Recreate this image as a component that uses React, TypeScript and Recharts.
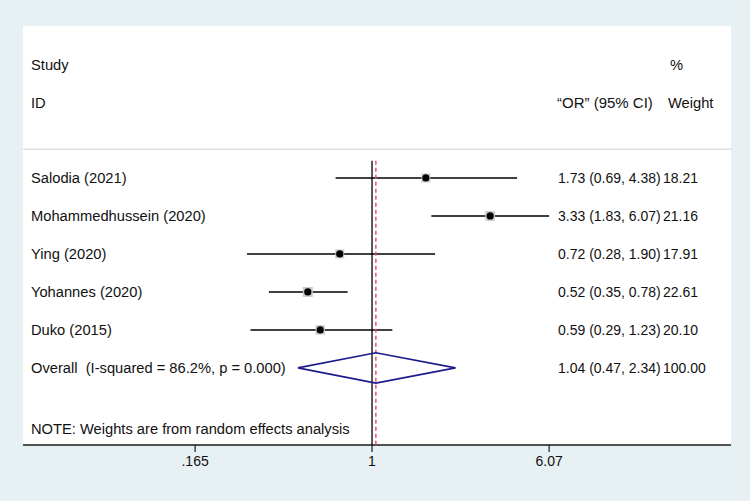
import React from 'react';
import { ComposedChart, Scatter, XAxis, YAxis, CartesianGrid } from 'recharts';

// ---- data ----
const studyLabels = ['Salodia (2021)', 'Mohammedhussein (2020)', 'Ying (2020)', 'Yohannes (2020)', 'Duko (2015)'];
const oddsRatios = [1.73, 3.33, 0.72, 0.52, 0.59];
const ciLow = [0.69, 1.83, 0.28, 0.35, 0.29];
const ciHigh = [4.38, 6.07, 1.9, 0.78, 1.23];
const weights = ['18.21', '21.16', '17.91', '22.61', '20.10'];
const overallLabel = 'Overall  (I-squared = 86.2%, p = 0.000)';
const overallOR = 1.04;
const overallLow = 0.47;
const overallHigh = 2.34;
const overallWeight = '100.00';
const xTicks = [0.165, 1, 6.07];
const xTickLabels = ['.165', '1', '6.07'];
const headerStudy = ['Study', 'ID'];
const headerEffect = '\u201COR\u201D (95% CI)';
const headerWeight = ['%', 'Weight'];
const noteText = 'NOTE: Weights are from random effects analysis';
const nullValue = 1;

// ---- layout (row positions on the y scale) ----
const FIRST_ROW = 4;
const OVERALL_ROW = FIRST_ROW + studyLabels.length;
const Y_MAX = 11.03;
const FONT = '"Liberation Sans", Arial, Helvetica, sans-serif';
const LABEL_X = 31;
const STAT_X = 558;
const WEIGHT_X = 663;

const fmt = (v: number) => v.toFixed(2);

const studyRows = studyLabels.map((label, i) => ({
  x: oddsRatios[i],
  y: FIRST_ROW + i,
  label,
  stat: `${fmt(oddsRatios[i])} (${fmt(ciLow[i])}, ${fmt(ciHigh[i])})`,
  weight: weights[i],
  w: parseFloat(weights[i]),
}));

const textRows = [
  ...studyRows,
  {
    x: overallOR,
    y: OVERALL_ROW,
    label: overallLabel,
    stat: `${fmt(overallOR)} (${fmt(overallLow)}, ${fmt(overallHigh)})`,
    weight: overallWeight,
    w: 100,
  },
];

const headerRows = [
  { x: 1, y: 1.03, left: headerStudy[0], mid: '', right: headerWeight[0] },
  { x: 1, y: 2.03, left: headerStudy[1], mid: headerEffect, right: headerWeight[1] },
];

const noteRows = [{ x: 1, y: 10.6, text: noteText }];
const separatorRows = [{ x: 0.0286, y: 3.24 }, { x: 38.7, y: 3.24 }];

const diamond = [
  { x: overallLow, y: OVERALL_ROW },
  { x: overallOR, y: OVERALL_ROW - 0.4 },
  { x: overallHigh, y: OVERALL_ROW },
  { x: overallOR, y: OVERALL_ROW + 0.4 },
  { x: overallLow, y: OVERALL_ROW },
];

const nullLine = [{ x: nullValue, y: 3.55 }, { x: nullValue, y: Y_MAX }];
const overallLine = [{ x: overallOR, y: 3.55 }, { x: overallOR, y: Y_MAX }];

const Empty = () => <g />;

const txt = (x: number, y: number, s: string, size = 14.7) => (
  <text
    x={x}
    y={y}
    dy="0.35em"
    fontFamily={FONT}
    fontSize={size}
    fill="#111"
    style={{ whiteSpace: 'pre' }}
    xmlSpace="preserve"
  >
    {s}
  </text>
);

const RowText = (props: any) => {
  const { cy, payload } = props;
  return (
    <g>
      {txt(LABEL_X, cy, payload.label)}
      {txt(STAT_X, cy, payload.stat, 14)}
      {txt(WEIGHT_X, cy, payload.weight, 14)}
    </g>
  );
};

const HeaderText = (props: any) => {
  const { cy, payload } = props;
  return (
    <g>
      {txt(LABEL_X, cy, payload.left)}
      {payload.mid ? txt(557, cy, payload.mid, 15) : null}
      {txt(payload.right === '%' ? 670 : 668, cy, payload.right)}
    </g>
  );
};

const NoteText = (props: any) => {
  const { cy, payload } = props;
  return <g>{txt(LABEL_X, cy, payload.text)}</g>;
};

const PointMark = (props: any) => {
  const { cx, cy, payload } = props;
  const side = 2.1 * Math.sqrt(payload.w);
  return (
    <g>
      <rect x={cx - side / 2} y={cy - side / 2} width={side} height={side} fill="#c9c9c9" />
      <circle cx={cx} cy={cy} r={3.6} fill="#000" />
    </g>
  );
};

const TickLabel = (props: any) => {
  const { x, y, payload } = props;
  const idx = xTicks.indexOf(payload.value);
  return (
    <text x={x} y={y + 12} textAnchor="middle" fontFamily={FONT} fontSize={14} fill="#111">
      {idx >= 0 ? xTickLabels[idx] : String(payload.value)}
    </text>
  );
};

export default function App() {
  return (
    <div style={{ position: 'absolute', left: 0, top: 0, width: 750, height: 501, background: '#e7f0f2' }}>
      <ComposedChart width={750} height={501} margin={{ top: 26, right: 19, bottom: 26, left: 23 }}>
        <CartesianGrid fill="#ffffff" stroke="none" horizontal={false} vertical={false} />
        <XAxis
          type="number"
          dataKey="x"
          scale="log"
          domain={[0.0286, 38.7]}
          allowDataOverflow
          ticks={xTicks}
          interval={0}
          height={30}
          tickSize={7}
          axisLine={{ stroke: '#1a1a1a', strokeWidth: 1.5 }}
          tickLine={{ stroke: '#1a1a1a', strokeWidth: 1.2 }}
          tick={<TickLabel />}
        />
        <YAxis type="number" dataKey="y" domain={[0, Y_MAX]} reversed hide width={0} allowDataOverflow />

        <Scatter data={separatorRows} isAnimationActive={false} shape={<Empty />} line={{ stroke: '#cfcfcf', strokeWidth: 1 }} />

        <Scatter data={nullLine} isAnimationActive={false} shape={<Empty />} line={{ stroke: '#000', strokeWidth: 1.3 }} />

        {studyRows.map((r, i) => (
          <Scatter
            key={r.label}
            data={[{ x: ciLow[i], y: r.y }, { x: ciHigh[i], y: r.y }]}
            isAnimationActive={false}
            shape={<Empty />}
            line={{ stroke: '#000', strokeWidth: 1.5 }}
          />
        ))}

        <Scatter data={studyRows} isAnimationActive={false} shape={<PointMark />} />

        <Scatter
          data={overallLine}
          isAnimationActive={false}
          shape={<Empty />}
          line={{ stroke: '#dc5a68', strokeWidth: 1.5, strokeDasharray: '4 3' }}
        />

        <Scatter data={diamond} isAnimationActive={false} shape={<Empty />} line={{ stroke: '#1c1c8a', strokeWidth: 1.6, fill: 'none' }} />

        <Scatter data={headerRows} isAnimationActive={false} shape={<HeaderText />} />
        <Scatter data={textRows} isAnimationActive={false} shape={<RowText />} />
        <Scatter data={noteRows} isAnimationActive={false} shape={<NoteText />} />
      </ComposedChart>
    </div>
  );
}
